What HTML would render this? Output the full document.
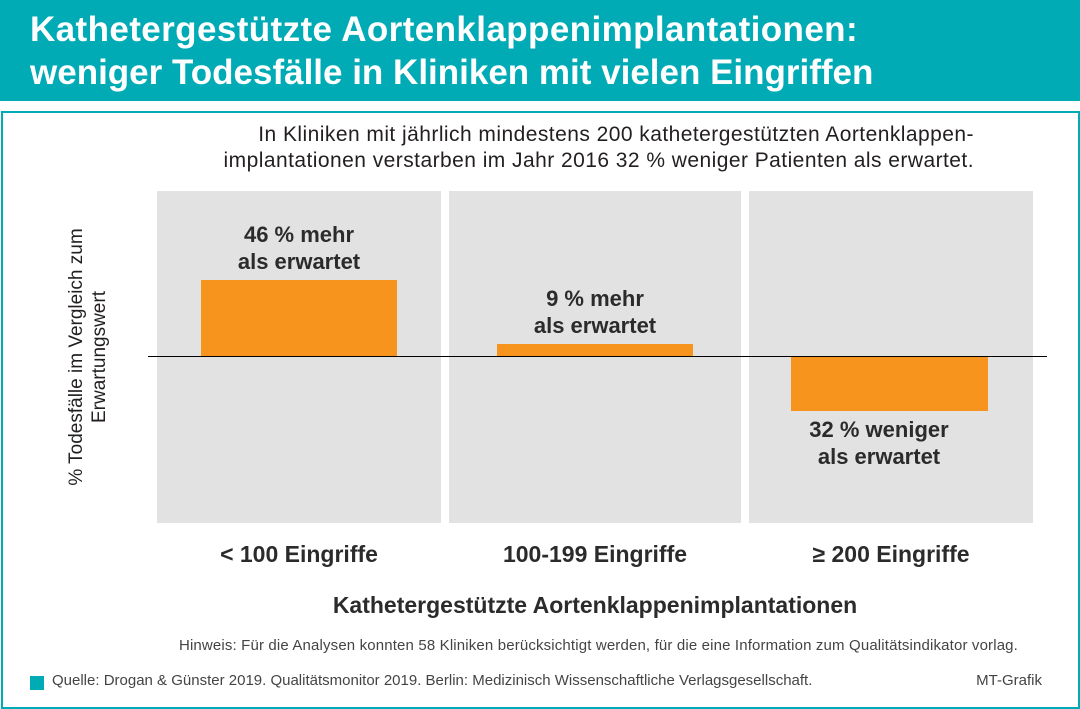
<!DOCTYPE html>
<html><head><meta charset="utf-8"><style>
body{margin:0;width:1080px;height:709px;position:relative;background:#fff;font-family:"Liberation Sans",sans-serif;overflow:hidden;color:#231f20}
.a{position:absolute;white-space:nowrap}
.hdr{position:absolute;left:0;top:0;width:1080px;height:101px;background:#00abb6}
.frame{position:absolute;left:1px;top:111px;width:1075px;height:594px;border:2px solid #00abb6}
.g{position:absolute;top:191px;height:332px;background:#e2e2e2}
.b{position:absolute;background:#f7941d}
.lab{font-weight:bold;font-size:22px;text-align:center;line-height:27px;color:#2b2b2b}
</style></head><body>
<div class="hdr"></div>
<div class="a" style="left:30px;top:8px;color:#fff;font-weight:bold;font-size:35px;line-height:43px"><span style="letter-spacing:0.4px">Kathetergestützte Aortenklappenimplantationen:</span><br>weniger Todesfälle in Kliniken mit vielen Eingriffen</div>
<div class="frame"></div>
<div class="a" style="right:106px;top:122px;font-size:21px;letter-spacing:0.45px;line-height:26px;text-align:right">In Kliniken mit jährlich mindestens 200 kathetergestützten Aortenklappen-<br>implantationen verstarben im Jahr 2016 32 % weniger Patienten als erwartet.</div>
<div class="g" style="left:157px;width:284px"></div>
<div class="g" style="left:449px;width:292px"></div>
<div class="g" style="left:749px;width:284px"></div>
<div class="b" style="left:201px;top:280px;width:196px;height:77px"></div>
<div class="b" style="left:497px;top:344px;width:196px;height:13px"></div>
<div class="b" style="left:791px;top:357px;width:197px;height:54px"></div>
<div class="a" style="left:148px;top:356px;width:899px;height:1px;background:#000"></div>
<div class="a lab" style="left:199px;top:221px;width:200px">46 % mehr<br>als erwartet</div>
<div class="a lab" style="left:495px;top:285px;width:200px">9 % mehr<br>als erwartet</div>
<div class="a lab" style="left:769px;top:416px;width:220px">32 % weniger<br>als erwartet</div>
<div class="a lab" style="left:157px;top:541px;width:284px;font-size:23px">&lt; 100 Eingriffe</div>
<div class="a lab" style="left:449px;top:541px;width:292px;font-size:23px">100-199 Eingriffe</div>
<div class="a lab" style="left:749px;top:541px;width:284px;font-size:23px">≥ 200 Eingriffe</div>
<div class="a lab" style="left:245px;top:592px;width:700px;font-size:23px">Kathetergestützte Aortenklappenimplantationen</div>
<div class="a" style="left:88px;top:357px;transform:translate(-50%,-50%) rotate(-90deg);font-size:19px;line-height:23px;text-align:center">% Todesfälle im Vergleich zum<br>Erwartungswert</div>
<div class="a" style="right:62px;top:637px;font-size:15px;letter-spacing:0.15px;color:#444">Hinweis: Für die Analysen konnten 58 Kliniken berücksichtigt werden, für die eine Information zum Qualitätsindikator vorlag.</div>
<div class="a" style="left:30px;top:676px;width:14px;height:14px;background:#00abb6"></div>
<div class="a" style="left:52px;top:672px;font-size:15px;color:#444">Quelle: Drogan &amp; Günster 2019. Qualitätsmonitor 2019. Berlin: Medizinisch Wissenschaftliche Verlagsgesellschaft.</div>
<div class="a" style="right:38px;top:672px;font-size:15px;color:#444">MT-Grafik</div>
</body></html>
